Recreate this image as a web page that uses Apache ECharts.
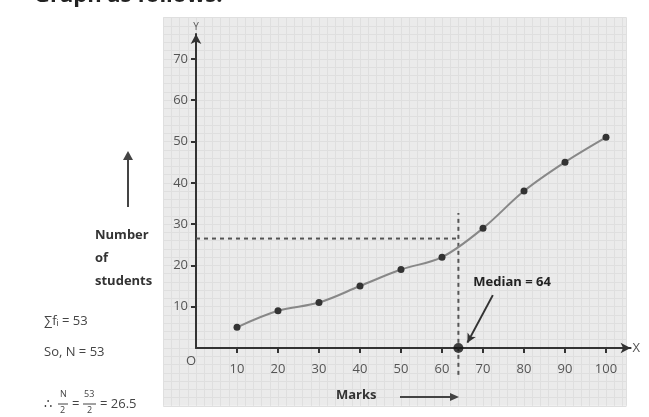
<!DOCTYPE html>
<html><head><meta charset="utf-8">
<script src="https://cdn.jsdelivr.net/npm/echarts@6/dist/echarts.min.js"></script>
<style>html,body{margin:0;padding:0;background:#fff}#c{width:649px;height:417px}</style>
</head><body><div id="c"></div>
<script>
const marks = [10, 20, 30, 40, 50, 60, 70, 80, 90, 100];
const cumStudents = [5, 9, 11, 15, 19, 22, 29, 38, 45, 51];
const xTickLabels = [10, 20, 30, 40, 50, 60, 70, 80, 90, 100];
const yTickLabels = [10, 20, 30, 40, 50, 60, 70];
const medianMark = 64;
const halfN = 26.5;
const medianText = 'Median = 64';

const F = '"Open Sans", "Liberation Sans", sans-serif';
const chart = echarts.init(document.getElementById('c'), null, {renderer: 'canvas'});
const pxX = 4.1, pxY = 4.13, x0 = 196, y0 = 348;
const bg = {xmin: -8, xmax: 105, ymin: -14, ymax: 80};
const main = {xmax: 106, ymax: 76};

const G = (o) => Object.assign({z: 100}, o);

chart.setOption({
  animation: false,
  backgroundColor: '#fff',
  grid: [
    {left: x0 + bg.xmin * pxX, width: (bg.xmax - bg.xmin) * pxX, top: y0 - bg.ymax * pxY, height: (bg.ymax - bg.ymin) * pxY,
     show: true, backgroundColor: '#ebebeb', borderWidth: 0},
    {left: x0, width: main.xmax * pxX, top: y0 - main.ymax * pxY, height: main.ymax * pxY, show: false}
  ],
  xAxis: [
    {gridIndex: 0, type: 'value', min: bg.xmin, max: bg.xmax, interval: 2,
     axisLine: {show: false}, axisTick: {show: false}, axisLabel: {show: false},
     splitLine: {show: true, lineStyle: {color: '#dfdfdf', width: 1}}},
    {gridIndex: 1, type: 'value', min: 0, max: main.xmax, interval: 10,
     name: 'X', nameLocation: 'end', nameGap: 2,
     nameTextStyle: {color: '#555', fontSize: 13, fontFamily: F},
     axisLine: {show: true, symbol: ['none', 'arrow'], symbolSize: [8, 10], lineStyle: {color: '#333', width: 2}},
     axisTick: {show: true, length: 5, customValues: xTickLabels, lineStyle: {color: '#333', width: 2}},
     axisLabel: {show: true, customValues: xTickLabels, margin: 15, color: '#555', fontSize: 13, fontFamily: F},
     splitLine: {show: false}}
  ],
  yAxis: [
    {gridIndex: 0, type: 'value', min: bg.ymin, max: bg.ymax, interval: 2,
     axisLine: {show: false}, axisTick: {show: false}, axisLabel: {show: false},
     splitLine: {show: true, lineStyle: {color: '#dfdfdf', width: 1}}},
    {gridIndex: 1, type: 'value', min: 0, max: main.ymax, interval: 10,
     name: 'Y', nameLocation: 'end', nameGap: 2,
     nameTextStyle: {color: '#555', fontSize: 10, fontFamily: F},
     axisLine: {show: true, symbol: ['none', 'arrow'], symbolSize: [8, 10], lineStyle: {color: '#333', width: 2}},
     axisTick: {show: true, length: 5, customValues: yTickLabels, lineStyle: {color: '#333', width: 2}},
     axisLabel: {show: true, customValues: yTickLabels, margin: 8, color: '#555', fontSize: 13, fontFamily: F},
     splitLine: {show: false}}
  ],
  series: [
    {type: 'line', xAxisIndex: 0, yAxisIndex: 0, z: 3,
     data: [[medianMark, -6.5], [medianMark, 32.7]], symbol: 'none',
     lineStyle: {color: '#555', width: 2, type: [4, 4]}},
    {type: 'line', xAxisIndex: 1, yAxisIndex: 1, z: 3,
     data: [[0, halfN], [medianMark, halfN]], symbol: 'none',
     lineStyle: {color: '#555', width: 2, type: [4, 4]}},
    {type: 'line', xAxisIndex: 1, yAxisIndex: 1, z: 4, smooth: 0.35,
     data: marks.map((m, i) => [m, cumStudents[i]]),
     symbol: 'circle', symbolSize: 7,
     itemStyle: {color: '#333'},
     lineStyle: {color: '#888', width: 2}},
    {type: 'scatter', xAxisIndex: 1, yAxisIndex: 1, z: 6,
     data: [[medianMark, 0]], symbolSize: 10, itemStyle: {color: '#111'},
     markLine: {silent: true, symbol: ['none', 'arrow'], symbolSize: [7, 9],
       lineStyle: {color: '#333', width: 2, type: 'solid'}, label: {show: false},
       data: [[{coord: [72.4, 12.8]}, {coord: [66.2, 1.3]}]]},
     markPoint: {symbol: 'rect', symbolSize: 1, itemStyle: {color: 'transparent'},
       data: [{coord: [67.5, 16], label: {show: true, formatter: medianText, position: 'right', distance: 0,
         color: '#222', fontWeight: 'bold', fontSize: 13, fontFamily: F}}]}}
  ],
  graphic: [
    G({type: 'text', left: 34, top: -15, style: {text: 'Graph as follows:', fill: '#222', font: 'bold 22px ' + F}}),
    G({type: 'text', left: 95, top: 224, style: {text: 'Number\nof\nstudents', fill: '#333', font: 'bold 13px ' + F, lineHeight: 23}}),
    G({type: 'line', shape: {x1: 128, y1: 207, x2: 128, y2: 158}, style: {stroke: '#444', lineWidth: 2}}),
    G({type: 'polygon', shape: {points: [[123, 160], [133, 160], [128, 151]]}, style: {fill: '#444'}}),
    G({type: 'text', left: 186, top: 355, style: {text: 'O', fill: '#555', font: '13px ' + F}}),
    G({type: 'text', left: 336, top: 389, style: {text: 'Marks', fill: '#333', font: 'bold 13px ' + F}}),
    G({type: 'line', shape: {x1: 400, y1: 397, x2: 452, y2: 397}, style: {stroke: '#444', lineWidth: 2}}),
    G({type: 'polygon', shape: {points: [[450, 393], [450, 401], [459, 397]]}, style: {fill: '#444'}}),
    G({type: 'text', left: 44, top: 315, style: {text: '∑fᵢ = 53', fill: '#444', font: '13px ' + F}}),
    G({type: 'text', left: 44, top: 346, style: {text: 'So, N = 53', fill: '#444', font: '13px ' + F}}),
    G({type: 'text', left: 44, top: 398, style: {text: '∴', fill: '#444', font: '13px ' + F}}),
    G({type: 'text', left: 60, top: 390, style: {text: 'N', fill: '#444', font: '9px ' + F}}),
    G({type: 'line', shape: {x1: 58, y1: 404, x2: 68, y2: 404}, style: {stroke: '#444', lineWidth: 1}}),
    G({type: 'text', left: 60, top: 406, style: {text: '2', fill: '#444', font: '9px ' + F}}),
    G({type: 'text', left: 72, top: 398, style: {text: '=', fill: '#444', font: '13px ' + F}}),
    G({type: 'text', left: 84, top: 390, style: {text: '53', fill: '#444', font: '9px ' + F}}),
    G({type: 'line', shape: {x1: 83, y1: 404, x2: 96, y2: 404}, style: {stroke: '#444', lineWidth: 1}}),
    G({type: 'text', left: 87, top: 406, style: {text: '2', fill: '#444', font: '9px ' + F}}),
    G({type: 'text', left: 100, top: 398, style: {text: '= 26.5', fill: '#444', font: '13px ' + F}})
  ]
});
</script></body></html>
